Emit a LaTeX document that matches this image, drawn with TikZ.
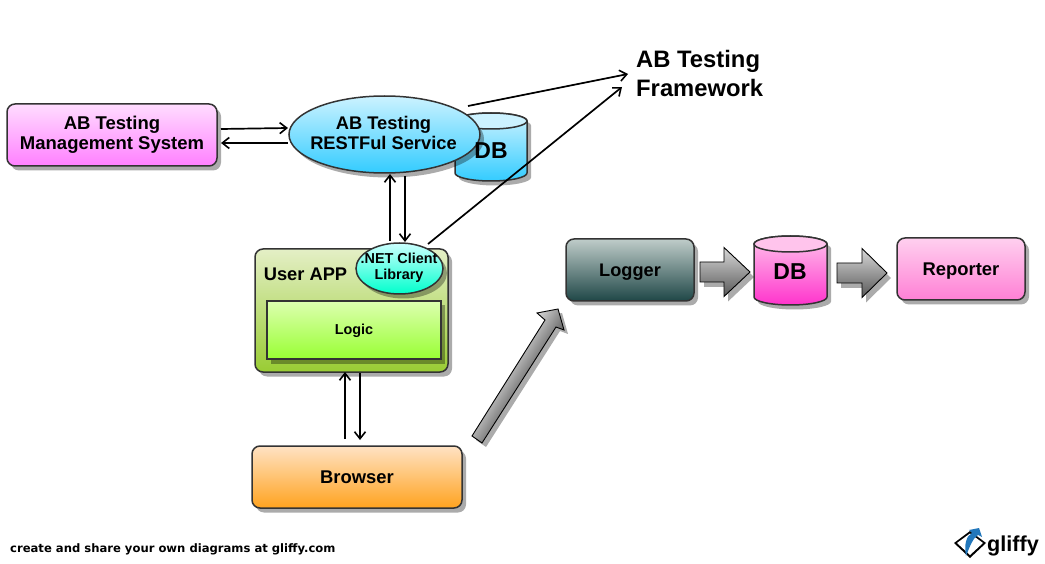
\documentclass[tikz,border=0pt]{standalone}
\usepackage{fontspec}
\setmainfont{Liberation Sans}
\newfontfamily\footfont{DejaVu Sans}
\usetikzlibrary{shapes.geometric,shadows,arrows.meta}
\definecolor{edge}{HTML}{333333}
\definecolor{mgmtA}{HTML}{FFDCFF}\definecolor{mgmtB}{HTML}{FF80FF}
\definecolor{blueA}{HTML}{CCF2FF}\definecolor{blueB}{HTML}{33CCFF}\definecolor{blueM}{HTML}{59D6FF}
\definecolor{appA}{HTML}{E4EFC6}\definecolor{appB}{HTML}{99CC33}
\definecolor{logicA}{HTML}{DDFFB0}\definecolor{logicB}{HTML}{99FF33}
\definecolor{libA}{HTML}{CCFFFF}\definecolor{libB}{HTML}{00FFCC}
\definecolor{browA}{HTML}{FFE2C4}\definecolor{browB}{HTML}{FFA31F}
\definecolor{logA}{HTML}{BFCCC9}\definecolor{logB}{HTML}{1F4747}
\definecolor{pinkA}{HTML}{FFC4EC}\definecolor{pinkB}{HTML}{FF33CC}
\definecolor{repA}{HTML}{FFD0EF}\definecolor{repB}{HTML}{FF80D5}
\definecolor{arrA}{HTML}{D8D8D8}\definecolor{arrB}{HTML}{585858}
\definecolor{logoblue}{HTML}{2277BB}
\tikzset{
  softshadow/.style={drop shadow={shadow xshift=4pt,shadow yshift=-4.5pt,opacity=.33,fill=black}},
  roundbox/.style={draw=edge,line width=1.5pt,rounded corners=8pt,inner sep=0pt,align=center,softshadow,font=\bfseries},
  oval/.style={ellipse,draw=edge,line width=1.5pt,inner sep=0pt,softshadow},
  link/.style={draw=black,line width=1.7pt,-{Straight Barb[length=7pt,width=11pt,line width=1.6pt]}},
  blockarrow/.style={draw=black,line width=.9pt,top color=arrA,bottom color=arrB},
  blockoutline/.style={draw=black,line width=.9pt},
  blockshadow/.style={fill=black,opacity=.33},
  cylbody/.style={draw=edge,line width=1.5pt},
  textlabel/.style={inner sep=0pt,align=center,font=\bfseries},
}
\newcommand{\cyl}[8]{%
  \path[fill=black,opacity=.33,xshift=4pt,yshift=-4.5pt]
    (#1,#3+8) -- (#1,#4-8) arc[start angle=180,end angle=360,x radius=#5pt,y radius=8pt]
    -- (#2,#3+8) arc[start angle=0,end angle=180,x radius=#5pt,y radius=8pt] -- cycle;
  \path[cylbody,top color=#6,bottom color=#7]
    (#1,#3+8) -- (#1,#4-8) arc[start angle=180,end angle=360,x radius=#5pt,y radius=8pt]
    -- (#2,#3+8) arc[start angle=0,end angle=180,x radius=#5pt,y radius=8pt] -- cycle;
  \path[cylbody,top color=#8,bottom color=#6]
    (#1,#3+8) arc[start angle=180,end angle=-180,x radius=#5pt,y radius=8pt] -- cycle;
}
\begin{document}
\begin{tikzpicture}[x=1pt,y=-1pt]
\useasboundingbox (0,0) rectangle (1045,564);
\fill[white] (0,0) rectangle (1045,564);

% upper DB behind the service
\cyl{455}{527}{113}{181}{36}{blueA}{blueB}{blueA}

\node[roundbox,minimum width=210pt,minimum height=62pt,top color=mgmtA,bottom color=mgmtB,font=\bfseries\fontsize{18.5}{20.5}\selectfont] (mgmt) at (112,135) {AB Testing\\Management System};
\node[oval,minimum width=191pt,minimum height=77pt,top color=blueA,middle color=blueM,bottom color=blueB] (rest) at (384.5,134.5) {};
\node[textlabel,font=\bfseries\fontsize{18.3}{20.5}\selectfont] (restlabel) at (383.5,133) {AB Testing\\RESTFul Service};
\node[textlabel,font=\bfseries\fontsize{23}{28}\selectfont] (dbone) at (491,151) {DB};

\node[roundbox,minimum width=193pt,minimum height=123pt,top color=appA,bottom color=appB] (app) at (351.5,310.5) {};
\node[textlabel,font=\bfseries\fontsize{18.3}{20}\selectfont] (applabel) at (305.5,274) {User APP};
\node[draw=edge,line width=1.5pt,inner sep=0pt,minimum width=174pt,minimum height=58pt,top color=logicA,bottom color=logicB,softshadow,font=\bfseries\fontsize{14.4}{16}\selectfont,text height=12.5pt,text depth=3pt] (logic) at (354,330) {Logic};
\node[oval,minimum width=87pt,minimum height=51pt,top color=libA,bottom color=libB] (lib) at (399.5,268.5) {};
\node[textlabel,font=\bfseries\fontsize{14.4}{16.2}\selectfont] (liblabel) at (399,267.5) {.NET Client\\Library};

\node[roundbox,minimum width=210pt,minimum height=62pt,top color=browA,bottom color=browB,font=\bfseries\fontsize{18.4}{21}\selectfont] (browser) at (357,477) {Browser};
\node[roundbox,minimum width=128pt,minimum height=62pt,top color=logA,bottom color=logB,font=\bfseries\fontsize{18.2}{20}\selectfont,text height=17pt,text depth=4pt] (logger) at (630,270) {Logger};
\node[roundbox,minimum width=128pt,minimum height=62pt,top color=repA,bottom color=repB,font=\bfseries\fontsize{18.4}{20}\selectfont,text height=17pt,text depth=4pt] (reporter) at (961,269) {Reporter};

\cyl{754}{827}{236}{305}{36.5}{pinkA}{pinkB}{pinkA}
\node[textlabel,font=\bfseries\fontsize{23}{28}\selectfont] (dbtwo) at (790,272) {DB};

\node[textlabel,align=left,anchor=west,font=\bfseries\fontsize{23.8}{29}\selectfont] (framework) at (636,73.5) {AB Testing\\Framework};

% line connectors
\coordinate (m1) at (221,129); \coordinate (r1) at (288,128);
\coordinate (r2) at (288,143); \coordinate (m2) at (221,143);
\coordinate (l1) at (390,241); \coordinate (r3) at (390,174);
\coordinate (r4) at (405,176); \coordinate (l2) at (405,242);
\coordinate (r5) at (468,106); \coordinate (f1) at (628,74);
\coordinate (l3) at (428,244); \coordinate (f2) at (622,87);
\coordinate (b1) at (345,439); \coordinate (a1) at (345,372);
\coordinate (a2) at (360,373); \coordinate (b2) at (360,440);
\draw[link] (m1) -- (r1);
\draw[link] (r2) -- (m2);
\draw[link] (l1) -- (r3);
\draw[link] (r4) -- (l2);
\draw[link] (r5) -- (f1);
\draw[link] (l3) -- (f2);
\draw[link] (b1) -- (a1);
\draw[link] (a2) -- (b2);

% block arrows
\newcommand{\harrow}[4]{%
  \path[blockshadow,xshift=4pt,yshift=-5pt] (#1,#4-10) -- (#2,#4-10) -- (#2,#4-24.5) -- (#3,#4) -- (#2,#4+24.5) -- (#2,#4+10) -- (#1,#4+10) -- cycle;
  \path[blockarrow] (#1,#4-10) -- (#2,#4-10) -- (#2,#4-24.5) -- (#3,#4) -- (#2,#4+24.5) -- (#2,#4+10) -- (#1,#4+10) -- cycle;
}
\harrow{700}{724}{750}{272}
\harrow{837}{862}{887}{273}
\path[blockshadow,xshift=4pt,yshift=-4pt] (472,436) -- (545,320) -- (537,313) -- (558,309) -- (564,330) -- (556,327) -- (482,443) -- cycle;
\begin{scope}
  \clip (472,436) -- (545,320) -- (537,313) -- (558,309) -- (564,330) -- (556,327) -- (482,443) -- cycle;
  \shade[transform canvas={shift={(477pt,-439.5pt)},rotate=57.6},top color=arrA,bottom color=arrB] (-20,-17) rectangle (180,17);
\end{scope}
\path[blockoutline] (472,436) -- (545,320) -- (537,313) -- (558,309) -- (564,330) -- (556,327) -- (482,443) -- cycle;

% footer
\node[textlabel,anchor=west,font=\footfont\bfseries\fontsize{11.6}{14}\selectfont] (foot) at (10,549) {create and share your own diagrams at gliffy.com};

% logo
\path[fill=black] (954,543) -- (970,531) -- (986,543) -- (970,558) -- cycle;
\path[fill=white] (957,543) -- (970,533.5) -- (983,543) -- (970,555) -- cycle;
\path[fill=logoblue] (966,556) .. controls (964,545) and (966,536) .. (972,533) -- (969,530) -- (979,528) -- (982,537) -- (978,535) .. controls (973,538) and (970,546) .. (966,556) -- cycle;
\node[textlabel,anchor=west,font=\bfseries\fontsize{21.6}{26}\selectfont] (logo) at (987,546) {gliffy};
\end{tikzpicture}
\end{document}
